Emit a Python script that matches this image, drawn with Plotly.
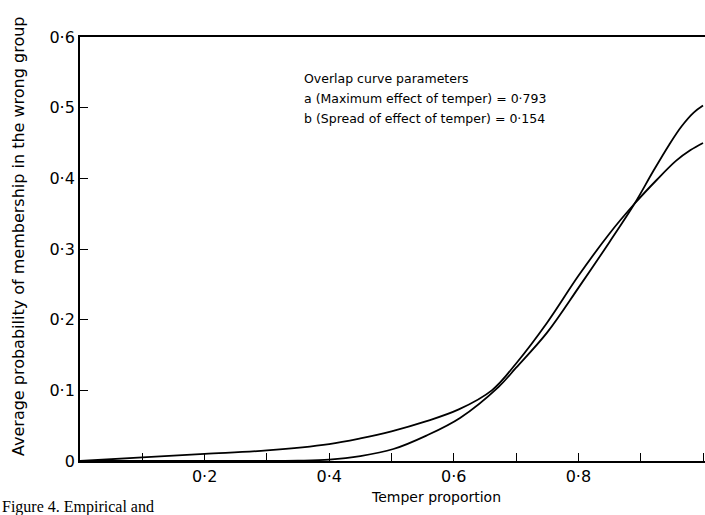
import plotly.graph_objects as go

# ---- data ----
temper_a = [0.0, 0.1, 0.2, 0.3, 0.4, 0.45, 0.5, 0.555, 0.608, 0.661, 0.7, 0.75, 0.8, 0.85, 0.89, 0.926, 0.957, 0.98, 1.0]
prob_a = [0.0, 0.005, 0.010, 0.015, 0.024, 0.032, 0.042, 0.056, 0.073, 0.100, 0.138, 0.196, 0.262, 0.322, 0.364, 0.398, 0.425, 0.440, 0.450]

temper_b = [0.0, 0.1, 0.2, 0.3, 0.35, 0.4, 0.45, 0.503, 0.556, 0.61, 0.672, 0.7, 0.75, 0.8, 0.85, 0.89, 0.92, 0.946, 0.966, 0.985, 1.0]
prob_b = [0.0, 0.0, 0.0, 0.0, 0.0005, 0.002, 0.007, 0.017, 0.036, 0.061, 0.105, 0.132, 0.182, 0.245, 0.310, 0.364, 0.410, 0.448, 0.474, 0.493, 0.503]

x_tick_vals = [0.0, 0.1, 0.2, 0.3, 0.4, 0.5, 0.6, 0.7, 0.8, 0.9, 1.0]
x_tick_text = ["", "", "0·2", "", "0·4", "", "0·6", "", "0·8", "", ""]
y_tick_vals = [0.0, 0.1, 0.2, 0.3, 0.4, 0.5, 0.6]
y_tick_text = ["0", "0·1", "0·2", "0·3", "0·4", "0·5", "0·6"]

param_lines = [
    "Overlap curve parameters",
    "a (Maximum effect of temper) = 0·793",
    "b (Spread of effect of temper) = 0·154",
]

W, H = 705, 515
ML, MR, MT, MB = 80, 0, 37, 54
FONT = "DejaVu Sans"


def px_x(p):
    return (p - ML) / (W - ML - MR)


def px_y(p):
    return (H - MB - p) / (H - MT - MB)


fig = go.Figure()
for xs, ys in [(temper_a, prob_a), (temper_b, prob_b)]:
    fig.add_trace(go.Scatter(
        x=xs, y=ys, mode="lines",
        line=dict(color="black", width=1.8, shape="spline", smoothing=1.0),
        showlegend=False, hoverinfo="skip",
    ))

annotations = []
for i, t in enumerate(param_lines):
    annotations.append(dict(
        xref="paper", yref="paper", x=px_x(302), y=px_y(78 + i * 20),
        xanchor="left", yanchor="middle", text=t, showarrow=False,
        font=dict(family=FONT, size=12.5, color="black"),
    ))
annotations.append(dict(
    xref="paper", yref="paper", x=px_x(436), y=px_y(497),
    xanchor="center", yanchor="middle", text="Temper proportion", showarrow=False,
    font=dict(family=FONT, size=14, color="black"),
))
annotations.append(dict(
    xref="paper", yref="paper", x=px_x(18), y=px_y(237),
    xanchor="center", yanchor="middle", textangle=-90,
    text="Average probability of membership in the wrong group", showarrow=False,
    font=dict(family=FONT, size=16, color="black"),
))
annotations.append(dict(
    xref="paper", yref="paper", x=px_x(0), y=px_y(496),
    xanchor="left", yanchor="top", text="Figure 4. Empirical and", showarrow=False,
    font=dict(family="Liberation Serif", size=16, color="black"),
))
fig.update_layout(annotations=annotations)

fig.update_layout(
    width=W, height=H,
    margin=dict(l=ML, r=MR, t=MT, b=MB, pad=0),
    paper_bgcolor="white", plot_bgcolor="white",
    font=dict(family=FONT, color="black"),
    xaxis=dict(
        range=[0, 1.0032], tickvals=x_tick_vals, ticktext=x_tick_text,
        ticks="inside", ticklen=8, tickwidth=1.3, tickcolor="black",
        showline=True, linecolor="black", linewidth=1.8, mirror=True,
        showgrid=False, zeroline=False,
        tickfont=dict(family=FONT, size=16, color="black"),
    ),
    yaxis=dict(
        range=[0, 0.6], tickvals=y_tick_vals, ticktext=y_tick_text,
        ticks="inside", ticklen=8, tickwidth=1.3, tickcolor="black",
        showline=True, linecolor="black", linewidth=1.8, mirror=False,
        showgrid=False, zeroline=False,
        tickfont=dict(family=FONT, size=16, color="black"),
    ),
)

fig.write_html("out.html")
